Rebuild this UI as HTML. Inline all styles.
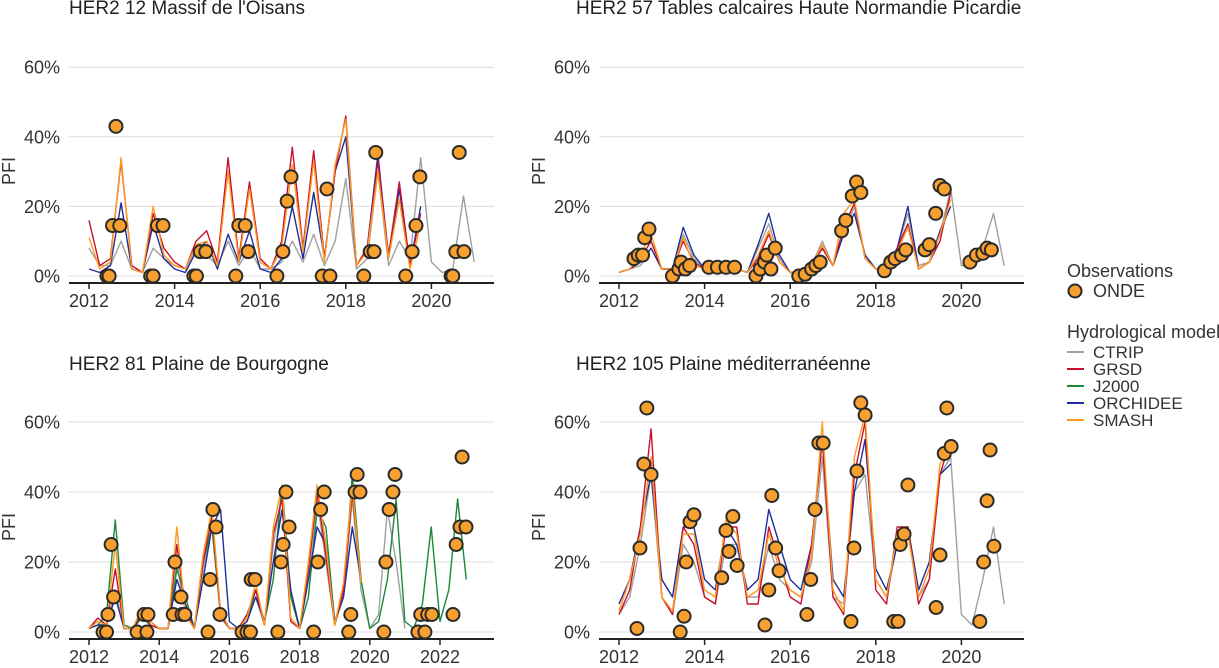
<!DOCTYPE html>
<html><head><meta charset="utf-8"><style>
html,body{margin:0;padding:0;background:#fff;}
svg{display:block;font-family:"Liberation Sans",Arial,sans-serif;}
</style></head><body>
<svg id="c" width="1219" height="668" viewBox="0 0 1219 668"></svg>
<script>
// ---------- data (quarterly grid from 2012.0) ----------
const gridStart = 2012.0, gridStep = 0.25;
// Panel 1: Massif de l'Oisans
const p1_ctrip = [8,3,3,10,2,1,8,5,3,2,8,6,3,10,3,8,2,2,4,10,4,12,3,10,28,2,5,30,3,10,5,34,4,1,2,23,4];
const p1_grsd = [16,3,5,33,3,1,18,8,4,2,10,13,4,34,5,27,5,2,10,37,8,36,5,30,46,3,8,33,6,27,3,18];
const p1_smash = [11,2,4,34,2,1,20,6,3,2,9,10,3,30,4,25,4,2,8,32,7,33,4,32,45,3,7,30,5,22,2,15];
const p1_orchidee = [2,1,3,21,2,1,15,5,2,1,7,10,2,12,4,13,2,1,5,20,5,24,5,30,40,3,8,35,5,25,3,20];
const p1_obs_t = [2012.42,2012.47,2012.55,2012.63,2012.72,2013.44,2013.5,2013.6,2013.73,2014.45,2014.51,2014.6,2014.73,2015.43,2015.5,2015.65,2015.72,2016.39,2016.53,2016.63,2016.72,2017.45,2017.56,2017.63,2018.42,2018.57,2018.66,2018.7,2019.4,2019.55,2019.64,2019.73,2020.46,2020.5,2020.57,2020.65,2020.76];
const p1_obs_v = [0,0,14.5,43,14.5,0,0,14.5,14.5,0,0,7,7,0,14.5,14.5,7,0,7,21.5,28.5,0,25,0,0,7,7,35.5,0,7,14.5,28.5,0,0,7,35.5,7];
// Panel 2: Tables calcaires
const p2_ctrip = [1,2,3,8,2,2,12,5,2,1,2,2,1,8,15,5,1,1,3,10,3,12,20,6,2,3,8,18,3,4,12,25,3,3,8,18,3];
const p2_grsd = [1,2,5,10,2,2,10,4,2,1,2,2,1,5,12,4,1,1,3,8,3,14,21,5,2,3,8,15,2,4,10,24];
const p2_smash = [1,2,6,12,2,2,11,3,2,1,2,2,1,6,13,4,1,1,3,9,3,18,22,5,2,3,7,14,2,4,12,22];
const p2_orchidee = [1,2,4,8,2,2,14,6,2,1,2,2,1,9,18,6,1,1,3,8,3,12,18,6,2,3,8,20,2,4,13,20];
const p2_obs_t = [2012.35,2012.45,2012.55,2012.6,2012.7,2013.25,2013.4,2013.45,2013.55,2013.65,2014.1,2014.3,2014.5,2014.7,2015.2,2015.3,2015.4,2015.45,2015.55,2015.65,2016.2,2016.35,2016.5,2016.6,2016.7,2017.2,2017.3,2017.45,2017.55,2017.65,2018.2,2018.35,2018.45,2018.6,2018.7,2019.15,2019.25,2019.4,2019.5,2019.6,2020.2,2020.35,2020.5,2020.6,2020.7];
const p2_obs_v = [5,6,6,11,13.5,0,2,4,2,3,2.5,2.5,2.5,2.5,0,2,4,6,2,8,0,0.5,2,3,4,13,16,23,27,24,1.5,4,5,6,7.5,7.5,9,18,26,25,4,6,6.5,8,7.5];
// Panel 3: Plaine de Bourgogne
const p3_ctrip = [1,3,2,12,1,1,5,2,1,1,20,5,1,18,30,4,1,1,4,10,2,25,40,3,1,15,38,20,2,10,38,12,1,5,35,20,1];
const p3_grsd = [1,4,2,18,1,1,6,2,1,1,25,6,1,20,33,5,1,1,5,12,2,28,38,3,1,18,40,22,2,12,40,15];
const p3_smash = [1,3,2,25,1,1,7,3,1,1,30,5,1,22,35,6,1,1,4,14,2,30,42,4,1,20,42,25,2,14,42,14];
const p3_orchidee = [1,2,2,10,1,1,5,3,1,1,15,8,1,15,30,35,3,1,3,10,3,20,35,12,1,15,30,25,3,10,30,15];
const p3_j2000 = [1,2,5,32,2,1,4,2,1,1,18,10,1,20,30,6,1,1,3,12,3,15,42,10,1,10,35,30,3,10,45,15,1,3,15,38,3,1,8,30,3,12,38,15];
const p3_obs_t = [2012.4,2012.5,2012.54,2012.63,2012.7,2013.37,2013.57,2013.65,2013.68,2014.4,2014.45,2014.62,2014.65,2014.73,2015.39,2015.45,2015.53,2015.62,2015.73,2016.36,2016.5,2016.6,2016.62,2016.73,2017.38,2017.47,2017.53,2017.61,2017.7,2018.4,2018.52,2018.6,2018.7,2019.4,2019.46,2019.58,2019.64,2019.72,2020.4,2020.46,2020.55,2020.66,2020.72,2021.37,2021.45,2021.57,2021.65,2021.77,2022.37,2022.46,2022.57,2022.63,2022.74];
const p3_obs_v = [0,0,5,25,10,0,5,0,5,5,20,10,5,5,0,15,35,30,5,0,0,0,15,15,0,20,25,40,30,0,20,35,40,0,5,40,45,40,0,20,35,40,45,0,5,0,5,5,5,25,30,50,30];
// Panel 4: Plaine mediterraneenne
const p4_ctrip = [5,10,25,45,10,5,25,20,10,8,25,25,10,10,25,15,12,10,20,50,10,8,40,45,15,10,25,30,10,15,45,50,5,2,15,30,8];
const p4_grsd = [5,12,30,58,10,5,30,25,10,8,30,30,8,8,30,20,10,8,25,55,10,5,45,60,12,8,30,30,8,15,45,55];
const p4_smash = [6,15,28,50,10,6,28,28,12,10,32,28,10,12,28,18,12,10,22,60,12,6,50,62,15,10,28,28,10,18,48,52];
const p4_orchidee = [8,15,30,45,15,10,30,30,15,12,30,25,12,15,35,25,15,12,25,55,15,10,40,55,18,12,25,30,12,20,45,48];
const p4_obs_t = [2012.42,2012.49,2012.58,2012.65,2012.75,2013.43,2013.52,2013.57,2013.66,2013.75,2014.4,2014.5,2014.57,2014.66,2014.76,2015.41,2015.5,2015.57,2015.66,2015.74,2016.39,2016.48,2016.58,2016.67,2016.77,2017.42,2017.49,2017.56,2017.65,2017.75,2018.42,2018.52,2018.57,2018.66,2018.75,2019.41,2019.5,2019.6,2019.66,2019.76,2020.43,2020.52,2020.6,2020.67,2020.76];
const p4_obs_v = [1,24,48,64,45,0,4.5,20,31.5,33.5,15.5,29,23,33,19,2,12,39,24,17.5,5,15,35,54,54,3,24,46,65.5,62,3,3,25,28,42,7,22,51,64,53,3,20,37.5,52,24.5];
const yTicks = [0,20,40,60];
const yTickLabels = ["0%","20%","40%","60%"];
const xTicksShort = [2012,2014,2016,2018,2020];
const xTicksLong = [2012,2014,2016,2018,2020,2022];

const colors = {CTRIP:"#a0a0a0",GRSD:"#c8102e",J2000:"#1a8a3a",ORCHIDEE:"#1f2f9c",SMASH:"#ff9a1e"};
const NS="http://www.w3.org/2000/svg";
const svg=document.getElementById('c');
function mk(tag,attrs,parent){const e=document.createElementNS(NS,tag);for(const k in attrs)e.setAttribute(k,attrs[k]);(parent||svg).appendChild(e);return e;}

const panels=[
 {title:"HER2 12 Massif de l'Oisans",tx:69,x0:89,ppy:42.8,xl:69,xr:494,y0:276,ppv:3.48,axisY:283,ticks:xTicksShort,series:[["CTRIP",p1_ctrip],["ORCHIDEE",p1_orchidee],["GRSD",p1_grsd],["SMASH",p1_smash]],ot:p1_obs_t,ov:p1_obs_v,name:"panel-oisans"},
 {title:"HER2 57 Tables calcaires Haute Normandie Picardie",tx:576,x0:619,ppy:42.8,xl:599,xr:1024,y0:276,ppv:3.48,axisY:283,ticks:xTicksShort,series:[["CTRIP",p2_ctrip],["ORCHIDEE",p2_orchidee],["GRSD",p2_grsd],["SMASH",p2_smash]],ot:p2_obs_t,ov:p2_obs_v,name:"panel-normandie"},
 {title:"HER2 81 Plaine de Bourgogne",tx:69,x0:89,ppy:35.1,xl:69,xr:494,y0:632,ppv:3.5,axisY:639,ticks:xTicksLong,series:[["CTRIP",p3_ctrip],["J2000",p3_j2000],["ORCHIDEE",p3_orchidee],["GRSD",p3_grsd],["SMASH",p3_smash]],ot:p3_obs_t,ov:p3_obs_v,name:"panel-bourgogne"},
 {title:"HER2 105 Plaine méditerranéenne",tx:576,x0:619,ppy:42.8,xl:599,xr:1024,y0:632,ppv:3.5,axisY:639,ticks:xTicksShort,series:[["CTRIP",p4_ctrip],["ORCHIDEE",p4_orchidee],["GRSD",p4_grsd],["SMASH",p4_smash]],ot:p4_obs_t,ov:p4_obs_v,name:"panel-mediterraneenne"}
];

panels.forEach(p=>{
  const g=mk('g',{});
  
  
  const X=t=>p.x0+(t-2012)*p.ppy;
  const Y=v=>p.y0-v*p.ppv;
  const tt=mk('text',{x:p.tx,y:p.y0-262,'font-size':19,fill:'#222'},g);tt.textContent=p.title;
  
  
  yTicks.forEach((v,i)=>{
    const gl=mk('line',{x1:p.xl,x2:p.xr,y1:Y(v),y2:Y(v),stroke:'#dcdcdc','stroke-width':1},g);
    
    
    const lb=mk('text',{x:p.xl-9,y:Y(v)+6.5,'font-size':18,fill:'#333','text-anchor':'end'},g);lb.textContent=yTickLabels[i];
    
    
  });
  const yl=mk('text',{x:0,y:0,'font-size':18,fill:'#333','text-anchor':'middle',transform:`translate(${p.xl-54},${p.y0-105}) rotate(-90)`},g);yl.textContent='PFI';
  
  
  p.series.forEach(([nm,arr])=>{
    const pts=arr.map((v,i)=>X(gridStart+i*gridStep).toFixed(1)+','+Y(Math.max(0,v)).toFixed(1)).join(' ');
    const pl=mk('polyline',{points:pts,fill:'none',stroke:colors[nm],'stroke-width':1.4,'stroke-linejoin':'round'},g);
    
    
  });
  const ax=mk('line',{x1:p.xl,x2:p.xr,y1:p.axisY,y2:p.axisY,stroke:'#222','stroke-width':2},g);
  
  
  p.ticks.forEach(t=>{
    mk('line',{x1:X(t),x2:X(t),y1:p.axisY,y2:p.axisY+6,stroke:'#222','stroke-width':1.5},g);
    const lb=mk('text',{x:X(t),y:p.axisY+24,'font-size':18,fill:'#333','text-anchor':'middle'},g);lb.textContent=t;
    
    
  });
  p.ot.forEach((t,i)=>{
    const c=mk('circle',{cx:X(t),cy:Y(p.ov[i]),r:6.5,fill:'#f7a030',stroke:'#2a2a2a','stroke-width':2},g);
    
    
  });
});

// legend
const lg=mk('g',{});


let t1=mk('text',{x:1067,y:277,'font-size':18,fill:'#333'},lg);t1.textContent='Observations';
mk('circle',{cx:1075,cy:291,r:6.5,fill:'#f7a030',stroke:'#2a2a2a','stroke-width':2},lg);
let t2=mk('text',{x:1093,y:297,'font-size':18,fill:'#333'},lg);t2.textContent='ONDE';
let t3=mk('text',{x:1067,y:338,'font-size':18,fill:'#333'},lg);t3.textContent='Hydrological model';
["CTRIP","GRSD","J2000","ORCHIDEE","SMASH"].forEach((nm,i)=>{
  const y=352+i*17;
  const ln=mk('line',{x1:1067,x2:1084,y1:y,y2:y,stroke:colors[nm],'stroke-width':2},lg);
  
  
  const tx=mk('text',{x:1093,y:y+6,'font-size':17,fill:'#333'},lg);tx.textContent=nm;
  
  
});
</script>
</body></html>
